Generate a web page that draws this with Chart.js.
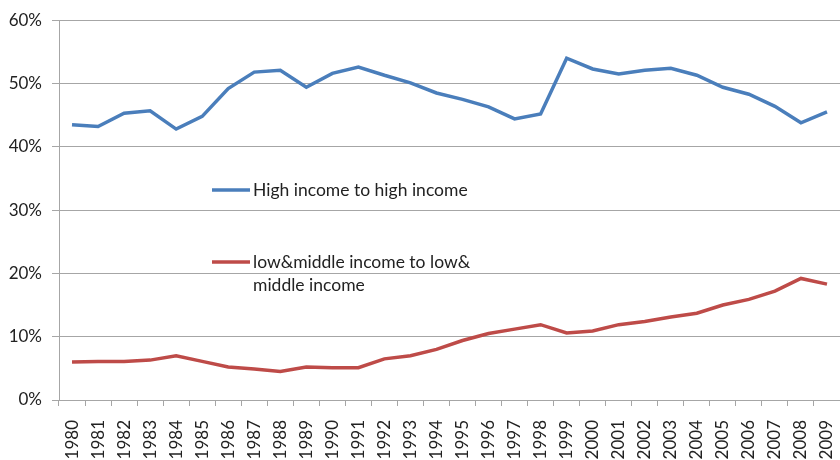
<!DOCTYPE html>
<html>
<head>
<meta charset="utf-8">
<script src="https://cdn.jsdelivr.net/npm/chart.js@4/dist/chart.umd.min.js"></script>
<style>
  html, body { margin: 0; padding: 0; background: #fff; }
  #wrap { width: 840px; height: 460px; position: relative; }
</style>
</head>
<body>
<div id="wrap"><canvas id="chart"></canvas></div>
<script>
const years = [];
for (let y = 1980; y <= 2009; y++) years.push(String(y));

// share of trade (%)
const highToHigh = [43.5, 43.2, 45.3, 45.7, 42.8, 44.8, 49.2, 51.8, 52.1, 49.4,
  51.6, 52.6, 51.3, 50.1, 48.5, 47.5, 46.3, 44.4, 45.2, 54.0,
  52.3, 51.5, 52.1, 52.4, 51.3, 49.4, 48.3, 46.4, 43.8, 45.5];
const lowMidToLowMid = [6.0, 6.1, 6.1, 6.3, 7.0, 6.1, 5.2, 4.9, 4.5, 5.2,
  5.1, 5.1, 6.5, 7.0, 8.0, 9.4, 10.5, 11.2, 11.9, 10.6,
  10.9, 11.9, 12.4, 13.1, 13.7, 15.0, 15.9, 17.2, 19.2, 18.3];

const seriesNames = ['High income to high income', ['low&middle income to low&', 'middle income']];
const blue = '#4a7ebb';
const red = '#be4b48';
const gridColor = '#a6a6a6';
const fontFamily = 'Lato, "Open Sans", sans-serif';

// legend drawn inside the plot, like the original
const insideLegend = {
  id: 'insideLegend',
  afterDraw(chart) {
    const ctx = chart.ctx;
    const entries = [
      { color: blue, lines: [seriesNames[0]], x: 212, y: 190 },
      { color: red, lines: seriesNames[1], x: 212, y: 262 },
    ];
    ctx.save();
    ctx.font = '17.5px ' + fontFamily;
    ctx.textBaseline = 'middle';
    ctx.fillStyle = '#222';
    entries.forEach(e => {
      ctx.strokeStyle = e.color;
      ctx.lineWidth = 3.5;
      ctx.beginPath();
      ctx.moveTo(e.x, e.y);
      ctx.lineTo(e.x + 38, e.y);
      ctx.stroke();
      e.lines.forEach((t, i) => ctx.fillText(t, e.x + 41, e.y + i * 23));
    });
    ctx.restore();
  }
};

new Chart(document.getElementById('chart'), {
  type: 'line',
  data: {
    labels: years,
    datasets: [
      {
        label: 'High income to high income',
        data: highToHigh,
        borderColor: blue,
        borderWidth: 3.5,
        pointRadius: 0,
        tension: 0,
      },
      {
        label: 'low&middle income to low& middle income',
        data: lowMidToLowMid,
        borderColor: red,
        borderWidth: 3.5,
        pointRadius: 0,
        tension: 0,
      },
    ],
  },
  options: {
    responsive: true,
    maintainAspectRatio: false,
    animation: false,
    layout: { padding: { top: 19, right: 0, left: 0, bottom: 0 } },
    plugins: {
      legend: { display: false },
      tooltip: { enabled: false },
    },
    scales: {
      x: {
        offset: true,
        grid: {
          offset: true,
          drawOnChartArea: false,
          drawTicks: true,
          tickLength: 6,
          color: gridColor,
        },
        border: { color: gridColor },
        ticks: {
          autoSkip: false,
          minRotation: 90,
          maxRotation: 90,
          padding: 14,
          color: '#222',
          font: { family: fontFamily, size: 17 },
        },
        afterFit: (scale) => {
          scale.height = 60;
          scale.paddingRight = 0;
          scale.paddingLeft = 0;
        },
      },
      y: {
        min: 0,
        max: 60,
        ticks: {
          stepSize: 10,
          padding: 10,
          color: '#222',
          font: { family: fontFamily, size: 17 },
          callback: (v) => v + '%',
        },
        grid: { color: gridColor, tickLength: 7 },
        border: { color: gridColor },
        afterFit: (scale) => { scale.width = 59; },
      },
    },
  },
  plugins: [insideLegend],
});
</script>
</body>
</html>
